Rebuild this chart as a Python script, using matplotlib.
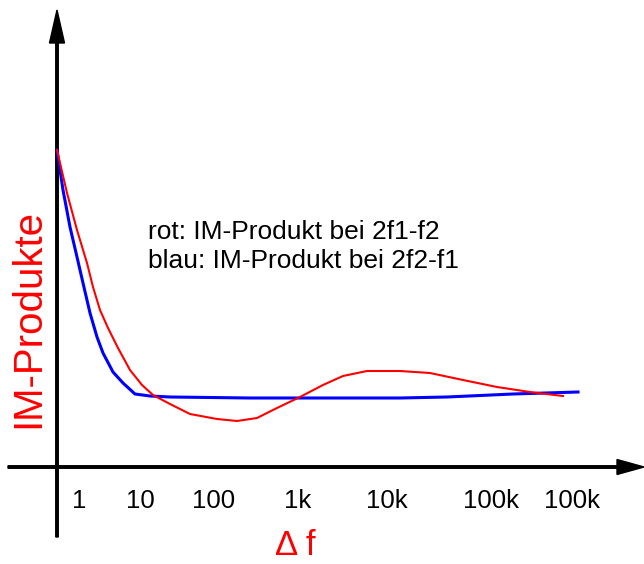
import matplotlib
matplotlib.use("Agg")
import matplotlib.pyplot as plt

plt.rcParams['font.family'] = ['Liberation Sans', 'DejaVu Sans']

# sketch values, origin at the axis crossing (x: frequency spacing, y: IM level)
blue_x = [0, 6, 13, 20, 26, 33, 40, 46, 56, 66, 78, 93, 113, 193, 343, 390, 456, 521]
blue_y = [317, 277, 240, 210, 184, 154, 130, 114, 95, 84, 73, 71, 70, 69, 69, 70, 73, 75]

red_x = [0, 10, 20, 30, 36, 43, 51, 61, 73, 85, 96, 113, 133, 160, 180, 200,
         220, 243, 266, 286, 310, 343, 373, 406, 440, 473, 506]
red_y = [317, 274, 237, 204, 180, 157, 139, 119, 97, 82, 72, 63, 53, 48, 46, 49,
         59, 70, 82, 91, 96, 96, 94, 87, 80, 75, 71]

tick_pos = [22, 83, 157, 241, 330, 434, 515]
tick_labels = ["1", "10", "100", "1k", "10k", "100k", "100k"]

fig = plt.figure(figsize=(6.44, 5.64), dpi=100)
ax = fig.add_axes([0, 0, 1, 1])
ax.set_xlim(-57, 587)
ax.set_ylim(-97, 467)
ax.set_aspect('equal')
ax.axis('off')

# axes drawn as arrows
ax.arrow(-49, 0, 636, 0, width=2.5, head_width=15, head_length=27,
         length_includes_head=True, fc='black', ec='black')
ax.arrow(0, -70, 0, 527, width=2.5, head_width=15, head_length=33,
         length_includes_head=True, fc='black', ec='black')

ax.plot(blue_x, blue_y, color='#0000ff', lw=2.2, solid_joinstyle='round')
ax.plot(red_x, red_y, color='#ff0000', lw=1.5, solid_joinstyle='round')

for pos, lab in zip(tick_pos, tick_labels):
    ax.text(pos, -34, lab, ha='center', va='center', fontsize=18.5)

ax.text(91, 228, "rot: IM-Produkt bei 2f1-f2", fontsize=19, va='baseline')
ax.text(91, 199, "blau: IM-Produkt bei 2f2-f1", fontsize=19, va='baseline')

ax.text(-29, 148, "IM-Produkte", color='#ff0000', fontsize=29,
        rotation=90, ha='center', va='center')
ax.text(238, -95, "Δ f", color='#ff0000', fontsize=25, ha='center', va='bottom')

fig.savefig("out.png", dpi=100)
